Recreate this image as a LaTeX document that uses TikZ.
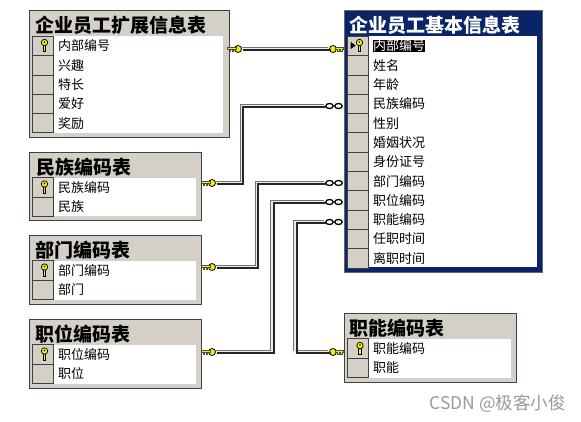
\documentclass[tikz,border=0pt]{standalone}
\usepackage{fontspec}
\usepackage{xcolor}
\setmainfont{Noto Sans CJK SC}
\usetikzlibrary{shapes.geometric, positioning}
\definecolor{panel}{HTML}{D4D0C8}
\definecolor{selnavy}{HTML}{0A246A}
\definecolor{keyyellow}{HTML}{F4F000}
\tikzset{
    tablebox/.style={rectangle, anchor=north west, inner sep=0pt, fill=panel, draw=black!75, line width=1pt},
    mainbox/.style={tablebox, fill=selnavy, draw=black!60},
    bodybox/.style={rectangle, anchor=north west, inner sep=0pt, fill=white},
    tabletitle/.style={anchor=west, inner sep=0pt, font=\fontsize{19}{19}\selectfont\bfseries},
    cell/.style={rectangle, minimum width=21pt, minimum height=19.3pt, inner sep=0pt, fill=panel, draw=black!75, line width=0.8pt},
    rowtext/.style={right=4pt of #1, inner sep=0pt, font=\fontsize{13}{13}\selectfont},
    keyhead/.style={circle, minimum size=7pt, inner sep=0pt, fill=keyyellow, draw=black, line width=0.8pt},
    infring/.style={ellipse, minimum width=7.5pt, minimum height=5pt, inner sep=0pt, fill=white, draw=black, line width=1.3pt},
    pipe/.style={draw=black!8, line width=2.6pt, line join=miter,
        preaction={draw=black!55, line width=1.4pt, transform canvas={shift={(-1.6,-1.6)}}},
        postaction={draw=black!85, line width=2pt, transform canvas={shift={(1.4,1.4)}}}},
    keystem/.pic={
        \fill [keyyellow, draw=black!70, line width=0.4pt] (2,-1.6) -- (10.5,-1.6) -- (10.5,0.6) -- (9,0.6) -- (9,2) -- (7.5,2) -- (7.5,0.6) -- (6,0.6) -- (6,2) -- (4.5,2) -- (4.5,0.6) -- (2,0.6) -- cycle;
    },
    rowkey/.pic={
        \fill [keyyellow, draw=black, line width=0.7pt] (-1.2,0) -- (1.2,0) -- (1.2,6.5) -- (-1.2,6.5) -- cycle;
        \fill [keyyellow, draw=black, line width=0.7pt] (0,-2.5) circle (3.2);
        \fill [black] (0,-3) circle (0.8);
    }
}
\begin{document}
\begin{tikzpicture}[x=1pt, y=-1pt, node distance=19.3pt]
    \useasboundingbox (0,0) rectangle (581,422);
    % tables
    \node (kz) [tablebox, minimum width=200pt, minimum height=127pt] at (28.5,10) {};
    \node (kzbody) [bodybox, minimum width=191pt, minimum height=97pt] at (32,36) {};
    \node (kztitle) [tabletitle] at (35,25) {企业员工扩展信息表};
    \node (kz1) [cell] at (43,46) {};
    \node (kz2) [cell, below of=kz1] {};
    \node (kz3) [cell, below of=kz2] {};
    \node (kz4) [cell, below of=kz3] {};
    \node (kz5) [cell, below of=kz4] {};
    \node (kz1t) [rowtext=kz1] {内部编号};
    \node (kz2t) [rowtext=kz2] {兴趣};
    \node (kz3t) [rowtext=kz3] {特长};
    \node (kz4t) [rowtext=kz4] {爱好};
    \node (kz5t) [rowtext=kz5] {奖励};

    \node (mz) [tablebox, minimum width=172pt, minimum height=68pt] at (28.5,152) {};
    \node (mzbody) [bodybox, minimum width=164pt, minimum height=38pt] at (32,178) {};
    \node (mztitle) [tabletitle] at (36,167) {民族编码表};
    \node (mz1) [cell] at (43,187.5) {};
    \node (mz2) [cell, below of=mz1] {};
    \node (mz1t) [rowtext=mz1] {民族编码};
    \node (mz2t) [rowtext=mz2] {民族};

    \node (bm) [tablebox, minimum width=172pt, minimum height=69pt] at (28.5,235) {};
    \node (bmbody) [bodybox, minimum width=164pt, minimum height=39pt] at (32,261) {};
    \node (bmtitle) [tabletitle] at (35,250) {部门编码表};
    \node (bm1) [cell] at (43,270.5) {};
    \node (bm2) [cell, below of=bm1] {};
    \node (bm1t) [rowtext=bm1] {部门编码};
    \node (bm2t) [rowtext=bm2] {部门};

    \node (zw) [tablebox, minimum width=172pt, minimum height=69pt] at (28.5,319) {};
    \node (zwbody) [bodybox, minimum width=164pt, minimum height=39pt] at (32,345) {};
    \node (zwtitle) [tabletitle] at (35,334) {职位编码表};
    \node (zw1) [cell] at (43,354.5) {};
    \node (zw2) [cell, below of=zw1] {};
    \node (zw1t) [rowtext=zw1] {职位编码};
    \node (zw2t) [rowtext=zw2] {职位};

    \node (zn) [tablebox, minimum width=172pt, minimum height=69pt] at (343.5,313) {};
    \node (znbody) [bodybox, minimum width=164pt, minimum height=39pt] at (347,339) {};
    \node (zntitle) [tabletitle] at (349,328) {职能编码表};
    \node (zn1) [cell] at (358,348.5) {};
    \node (zn2) [cell, below of=zn1] {};
    \node (zn1t) [rowtext=zn1] {职能编码};
    \node (zn2t) [rowtext=zn2] {职能};

    % selected table
    \node (jb) [mainbox, minimum width=198pt, minimum height=262pt] at (343.5,10) {};
    \node (jbbody) [bodybox, minimum width=190pt, minimum height=231pt] at (347,36) {};
    \node (jbtitle) [tabletitle, text=white] at (349,25) {企业员工基本信息表};
    \node (jb1) [cell] at (358,46) {};
    \node (jb2) [cell, below of=jb1] {};
    \node (jb3) [cell, below of=jb2] {};
    \node (jb4) [cell, below of=jb3] {};
    \node (jb5) [cell, below of=jb4] {};
    \node (jb6) [cell, below of=jb5] {};
    \node (jb7) [cell, below of=jb6] {};
    \node (jb8) [cell, below of=jb7] {};
    \node (jb9) [cell, below of=jb8] {};
    \node (jb10) [cell, below of=jb9] {};
    \node (jb11) [cell, below of=jb10] {};
    \node (jb12) [cell, below of=jb11] {};
    \node (jb1t) [rowtext=jb1, fill=black, text=white] {内部编号};
    \node (jb2t) [rowtext=jb2] {姓名};
    \node (jb3t) [rowtext=jb3] {年龄};
    \node (jb4t) [rowtext=jb4] {民族编码};
    \node (jb5t) [rowtext=jb5] {性别};
    \node (jb6t) [rowtext=jb6] {婚姻状况};
    \node (jb7t) [rowtext=jb7] {身份证号};
    \node (jb8t) [rowtext=jb8] {部门编码};
    \node (jb9t) [rowtext=jb9] {职位编码};
    \node (jb10t) [rowtext=jb10] {职能编码};
    \node (jb11t) [rowtext=jb11] {任职时间};
    \node (jb12t) [rowtext=jb12] {离职时间};
    \node (jbmark) [isosceles triangle, isosceles triangle apex angle=70, minimum size=5pt, inner sep=0pt, fill=black] at (352.5,45.5) {};

    % row keys
    \pic at (44.5,45) {rowkey};
    \pic at (44.5,186.5) {rowkey};
    \pic at (44.5,269.5) {rowkey};
    \pic at (44.5,353.5) {rowkey};
    \pic at (360,348) {rowkey};
    \pic at (359.5,45) {rowkey};

    % connector ends
    \node (k1a) [keyhead] at (238,49) {};
    \node (k1b) [keyhead] at (333,49) {};
    \node (k2) [keyhead] at (212,183) {};
    \node (k3) [keyhead] at (212,267) {};
    \node (k4) [keyhead] at (212,352) {};
    \node (k5) [keyhead] at (333,352) {};
    \pic [xscale=-1] at (k1a) {keystem};
    \pic at (k1b) {keystem};
    \pic [xscale=-1] at (k2) {keystem};
    \pic [xscale=-1] at (k3) {keystem};
    \pic [xscale=-1] at (k4) {keystem};
    \pic at (k5) {keystem};
    \node (r2a) [infring] at (329.5,106) {};
    \node (r2b) [infring] at (338.5,106) {};
    \node (r3a) [infring] at (329.5,183) {};
    \node (r3b) [infring] at (338.5,183) {};
    \node (r4a) [infring] at (329.5,202) {};
    \node (r4b) [infring] at (338.5,202) {};
    \node (r5a) [infring] at (329.5,222) {};
    \node (r5b) [infring] at (338.5,222) {};
    \coordinate (b2) at (242,106);
    \coordinate (b3) at (257,183);
    \coordinate (b4) at (272.5,202);
    \coordinate (b5) at (295.5,222);

    \draw [pipe] (k1a.east) -- (k1b.west);
    \draw [pipe] (k2.east) -| (b2) -- (r2a.west);
    \draw [pipe] (k3.east) -| (b3) -- (r3a.west);
    \draw [pipe] (k4.east) -| (b4) -- (r4a.west);
    \draw [pipe] (r5a.west) -| (b5) |- (k5.west);

    \node (mark) [anchor=east, inner sep=0pt, text=black!40, font=\fontsize{17.5}{17.5}\selectfont] at (566,404) {CSDN @极客小俊};
\end{tikzpicture}
\end{document}
